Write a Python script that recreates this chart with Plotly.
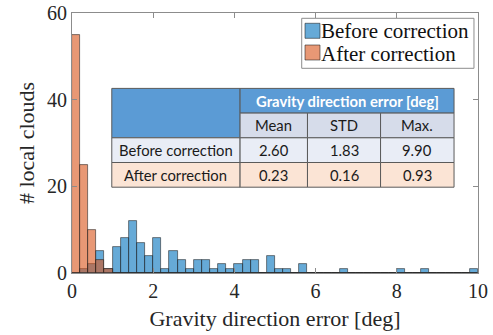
import numpy as np
import plotly.graph_objects as go

bin_width = 0.2
before_counts = [0, 1, 2, 5, 1, 6, 8, 12, 7, 4,
                 8, 1, 5, 3, 1, 3, 3, 1, 2, 1,
                 2, 3, 3, 0, 4, 1, 1, 0, 2, 0,
                 0, 0, 0, 1, 0, 0, 0, 0, 0, 0,
                 1, 0, 0, 1, 0, 0, 0, 0, 0, 1]
after_counts = [55, 25, 10, 3, 1] + [0] * 45

series_names = ["Before correction", "After correction"]
series_colors = ["rgba(0,114,189,0.6)", "rgba(217,83,25,0.6)"]
x_ticks = [0, 2, 4, 6, 8, 10]
y_ticks = [0, 20, 40, 60]

table_title = "Gravity direction error [deg]"
table_cols = ["Mean", "STD", "Max."]
table_rows = ["Before correction", "After correction"]
table_vals = [["2.60", "1.83", "9.90"],
              ["0.23", "0.16", "0.93"]]

edges = np.arange(len(before_counts)) * bin_width
edge_line = dict(color="rgba(30,30,30,0.7)", width=0.8)

fig = go.Figure()
for counts, name, col in zip([before_counts, after_counts], series_names, series_colors):
    fig.add_trace(go.Bar(x=edges, y=counts, width=bin_width, offset=0,
                         name=name, showlegend=False,
                         marker=dict(color=col, line=edge_line)))

serif = "Liberation Serif, Times New Roman, serif"
axcol = "#8c8c8c"
fig.update_layout(
    width=493, height=335,
    margin=dict(l=72, r=15, t=13, b=62),
    paper_bgcolor="white", plot_bgcolor="white",
    barmode="overlay", bargap=0,
    font=dict(family=serif, size=20, color="#262626"),
    xaxis=dict(range=[0, 10], tickvals=x_ticks, ticks="inside", ticklen=5,
               showline=True, mirror="ticks", linecolor=axcol, tickcolor=axcol,
               showgrid=False, zeroline=False, automargin=False,
               title=dict(text="Gravity direction error [deg]",
                          font=dict(size=22, family=serif), standoff=9),
               tickfont=dict(size=20, family=serif)),
    yaxis=dict(range=[0, 60], tickvals=y_ticks, ticks="inside", ticklen=5,
               showline=True, mirror="ticks", linecolor=axcol, tickcolor=axcol,
               showgrid=False, zeroline=False, automargin=False,
               title=dict(text="# local clouds",
                          font=dict(size=22, family=serif), standoff=6),
               tickfont=dict(size=20, family=serif)),
)

shapes = []
annots = []

# manual legend (paper coordinates)
shapes.append(dict(type="rect", xref="paper", yref="paper",
                   x0=0.5658, x1=0.9901, y0=0.7873, y1=0.9796,
                   fillcolor="white", line=dict(color=axcol, width=1)))
leg_sq_y = [(0.9027, 0.9604), (0.8192, 0.8769)]
leg_txt_y = [0.9308, 0.8442]
for i, name in enumerate(series_names):
    shapes.append(dict(type="rect", xref="paper", yref="paper",
                       x0=0.5739, x1=0.6108, y0=leg_sq_y[i][0], y1=leg_sq_y[i][1],
                       fillcolor=series_colors[i], line=edge_line))
    annots.append(dict(xref="paper", yref="paper", x=0.608, y=leg_txt_y[i],
                       text=name, showarrow=False, xanchor="left", yanchor="middle",
                       font=dict(family=serif, size=21, color="#111")))

# table drawn with shapes and annotations in paper coordinates
col_x = [0.098, 0.414, 0.580, 0.760, 0.941]
row_y = [0.710, 0.615, 0.520, 0.425, 0.330]
hdr_blue = "#5b9bd5"
sub_fill = "#d6dcea"
row_fills = ["#e9edf6", "#fbe4d5"]
grid = "#5a5a5a"
tfont = "Lato, Carlito, Calibri, sans-serif"


def cell(x0, x1, y0, y1, fill):
    shapes.append(dict(type="rect", xref="paper", yref="paper",
                       x0=x0, x1=x1, y0=y0, y1=y1,
                       fillcolor=fill, line=dict(color=grid, width=1)))


def text(xc, yc, s, color="#1a1a1a", bold=False, size=14.8):
    annots.append(dict(xref="paper", yref="paper", x=xc, y=yc,
                       text=(f"<b>{s}</b>" if bold else s),
                       showarrow=False, xanchor="center", yanchor="middle",
                       font=dict(family=tfont, size=size, color=color)))


cell(col_x[0], col_x[1], row_y[2], row_y[0], hdr_blue)
cell(col_x[1], col_x[4], row_y[1], row_y[0], hdr_blue)
text((col_x[1] + col_x[4]) / 2, (row_y[0] + row_y[1]) / 2, table_title,
     color="white", bold=True, size=14.8)
for j, c in enumerate(table_cols):
    cell(col_x[j + 1], col_x[j + 2], row_y[2], row_y[1], sub_fill)
    text((col_x[j + 1] + col_x[j + 2]) / 2, (row_y[1] + row_y[2]) / 2, c)
for i, rname in enumerate(table_rows):
    y0, y1 = row_y[i + 3], row_y[i + 2]
    cell(col_x[0], col_x[1], y0, y1, row_fills[i])
    text((col_x[0] + col_x[1]) / 2, (y0 + y1) / 2, rname)
    for j, v in enumerate(table_vals[i]):
        cell(col_x[j + 1], col_x[j + 2], y0, y1, row_fills[i])
        text((col_x[j + 1] + col_x[j + 2]) / 2, (y0 + y1) / 2, v)

fig.update_layout(shapes=shapes, annotations=annots)
fig.write_html("out.html")
